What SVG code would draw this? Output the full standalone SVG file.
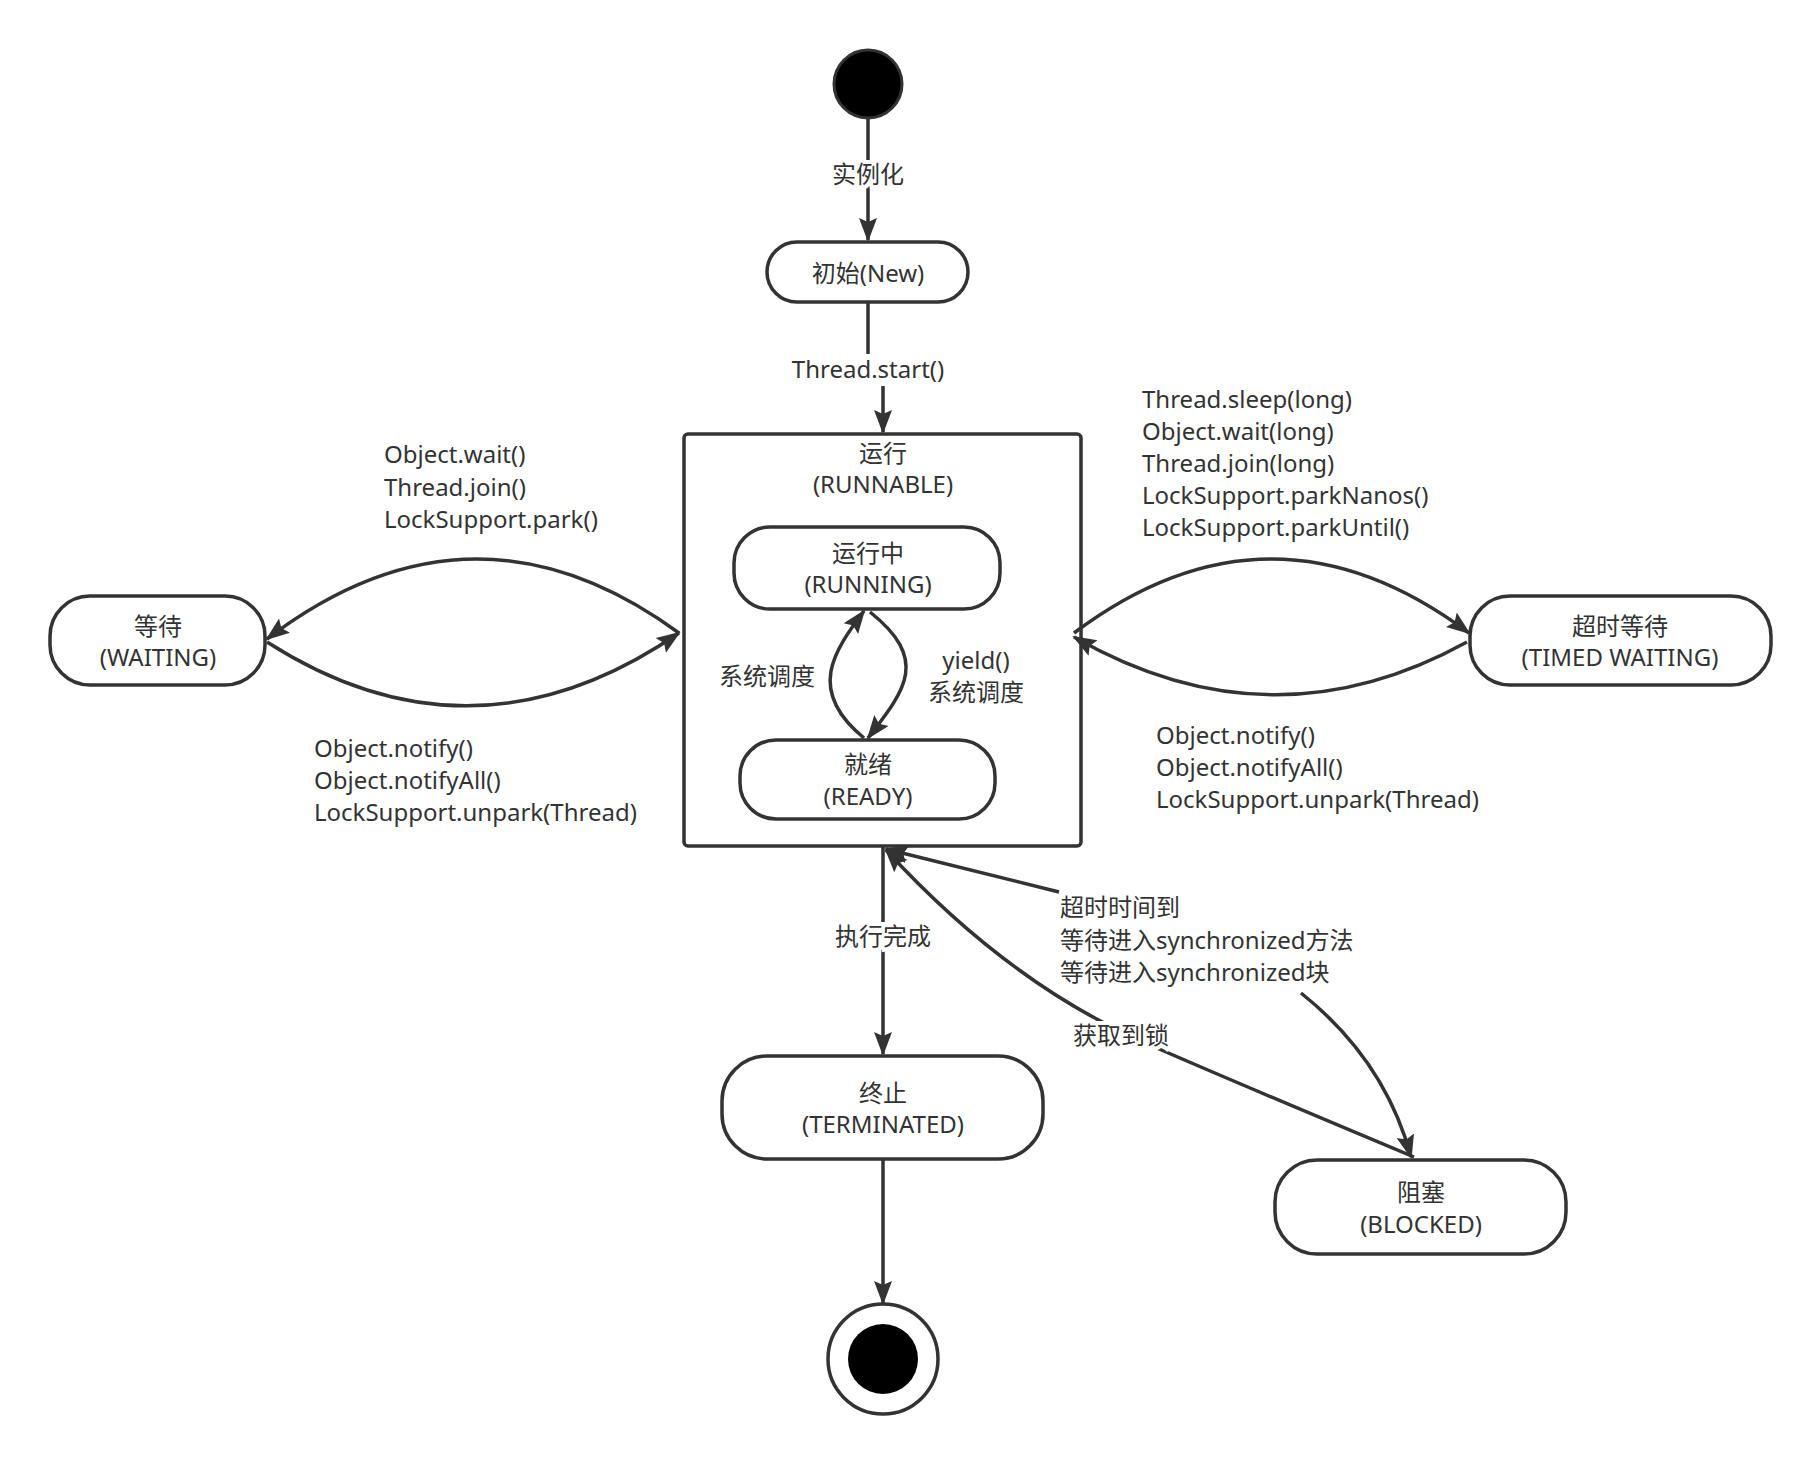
<svg xmlns="http://www.w3.org/2000/svg" width="1812" height="1458" viewBox="0 0 1812 1458">
<defs>
<marker id="ar" markerWidth="24" markerHeight="20" refX="22" refY="9" orient="auto" markerUnits="userSpaceOnUse" viewBox="0 0 24 18"><path d="M0,0 L24,9 L0,18 L4,9 z" fill="#333"/></marker>
<style>
.n{fill:#fff;stroke:#333;stroke-width:3.5}
.c{fill:none;stroke:#333;stroke-width:3.5}
text{font-family:"Noto Sans","Noto Sans CJK SC",sans-serif;font-size:24px;fill:#333}
.m{text-anchor:middle}
.lb{paint-order:stroke;stroke:#fff;stroke-width:8}
</style>
</defs>
<rect width="1812" height="1458" fill="#fff"/>
<g id="start"><circle cx="868" cy="84" r="34" fill="#000" stroke="#333" stroke-width="3"/></g>
<g id="new"><rect class="n" x="767" y="242" width="201" height="60" rx="30"/><text class="m" x="868" y="282">初始(New)</text></g>
<g id="runnable"><rect class="n" x="684" y="434" width="397" height="412" rx="4"/><text class="m" x="883" y="462">运行</text><text class="m" x="883" y="493">(RUNNABLE)</text></g>
<g id="running"><rect class="n" x="734" y="527" width="266" height="82" rx="36"/><text class="m" x="868" y="562">运行中</text><text class="m" x="868" y="593">(RUNNING)</text></g>
<g id="ready"><rect class="n" x="740" y="740" width="255" height="79" rx="36"/><text class="m" x="868" y="773">就绪</text><text class="m" x="868" y="805">(READY)</text></g>
<g id="waiting"><rect class="n" x="50" y="596" width="215" height="89" rx="40"/><text class="m" x="158" y="635">等待</text><text class="m" x="158" y="666">(WAITING)</text></g>
<g id="timed"><rect class="n" x="1470" y="596" width="301" height="89" rx="40"/><text class="m" x="1620" y="635">超时等待</text><text class="m" x="1620" y="666">(TIMED WAITING)</text></g>
<g id="terminated"><rect class="n" x="722" y="1056" width="321" height="103" rx="45"/><text class="m" x="883" y="1102">终止</text><text class="m" x="883" y="1133">(TERMINATED)</text></g>
<g id="blocked"><rect class="n" x="1275" y="1160" width="291" height="94" rx="42"/><text class="m" x="1421" y="1201">阻塞</text><text class="m" x="1421" y="1233">(BLOCKED)</text></g>
<g id="end"><circle cx="883" cy="1359" r="55" fill="#fff" stroke="#333" stroke-width="3.5"/><circle cx="883" cy="1359" r="35" fill="#000"/></g>
<g id="connectors">
<path class="c" d="M868 118 V240" marker-end="url(#ar)"/>
<path class="c" d="M868 302 V354"/>
<path class="c" d="M883 386 V432" marker-end="url(#ar)"/>
<path class="c" d="M679 633 Q473 482 267 639" marker-end="url(#ar)"/>
<path class="c" d="M267 642 Q473 774 679 633" marker-end="url(#ar)"/>
<path class="c" d="M1074 633 Q1271 485 1469 633" marker-end="url(#ar)"/>
<path class="c" d="M1467 642 Q1271 750 1074 637" marker-end="url(#ar)"/>
<path class="c" d="M864 738 C805 690 835 650 864 611" marker-end="url(#ar)"/>
<path class="c" d="M870 612 C930 660 905 690 868 738" marker-end="url(#ar)"/>
<path class="c" d="M883 846 V1054" marker-end="url(#ar)"/>
<path class="c" d="M883 1159 V1303" marker-end="url(#ar)"/>
<path class="c" d="M1414 1157 Q1230 1080 1150 1045 Q1010 985 886 850" marker-end="url(#ar)"/>
<path class="c" d="M1059 892 L886 849" marker-end="url(#ar)"/>
<path class="c" d="M1301 993 Q1385 1060 1411 1157" marker-end="url(#ar)"/>
</g>
<g id="labels">
<text class="m lb" x="868" y="183">实例化</text>
<text class="m lb" x="868" y="378">Thread.start()</text>
<text x="384" y="463">Object.wait()</text>
<text x="384" y="496">Thread.join()</text>
<text x="384" y="528">LockSupport.park()</text>
<text x="314" y="757">Object.notify()</text>
<text x="314" y="789">Object.notifyAll()</text>
<text x="314" y="821">LockSupport.unpark(Thread)</text>
<text x="1142" y="408">Thread.sleep(long)</text>
<text x="1142" y="440">Object.wait(long)</text>
<text x="1142" y="472">Thread.join(long)</text>
<text x="1142" y="504">LockSupport.parkNanos()</text>
<text x="1142" y="536">LockSupport.parkUntil()</text>
<text x="1156" y="744">Object.notify()</text>
<text x="1156" y="776">Object.notifyAll()</text>
<text x="1156" y="808">LockSupport.unpark(Thread)</text>
<text class="m" x="767" y="685">系统调度</text>
<text class="m" x="976" y="669">yield()</text>
<text class="m" x="976" y="701">系统调度</text>
<text class="m lb" x="883" y="945">执行完成</text>
<text class="lb" x="1060" y="916">超时时间到</text>
<text class="lb" x="1060" y="949">等待进入synchronized方法</text>
<text class="lb" x="1060" y="981">等待进入synchronized块</text>
<text class="m lb" x="1121" y="1044">获取到锁</text>
</g>
</svg>
